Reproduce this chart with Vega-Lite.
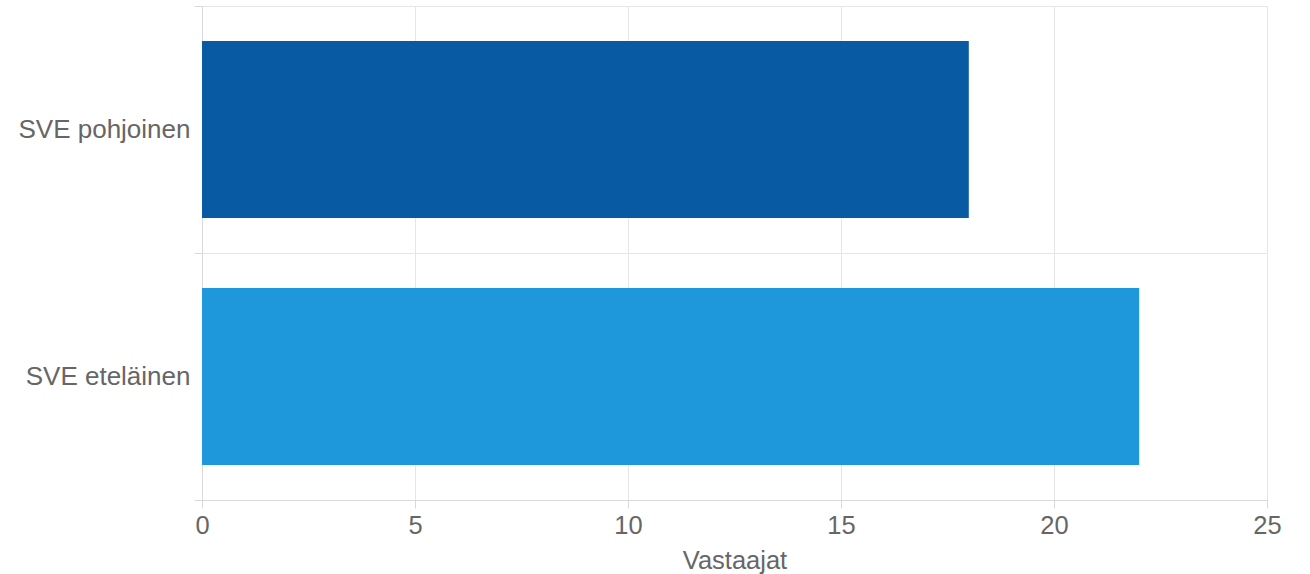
{
  "$schema": "https://vega.github.io/schema/vega-lite/v6.json",
  "width": 1065,
  "height": 494,
  "autosize": {"type": "none"},
  "padding": {"left": 202, "top": 6, "right": 43, "bottom": 74},
  "background": "white",
  "config": {
    "view": {"stroke": null},
    "font": "Liberation Sans"
  },
  "data": {
    "values": [
      {"alue": "SVE pohjoinen", "vastaajat": 18},
      {"alue": "SVE eteläinen", "vastaajat": 22}
    ]
  },
  "mark": {"type": "bar", "height": {"band": 0.7166}},
  "encoding": {
    "y": {
      "field": "alue",
      "type": "nominal",
      "sort": ["SVE pohjoinen", "SVE eteläinen"],
      "scale": {"paddingInner": 0, "paddingOuter": 0},
      "axis": {
        "title": null,
        "tickBand": "extent",
        "grid": true,
        "gridColor": "#e6e6e6",
        "tickColor": "#d9d9d9",
        "tickSize": 8,
        "domainColor": "#d9d9d9",
        "labelPadding": 4,
        "labelFontSize": 26,
        "labelColor": "#666666",
        "labelFont": "Liberation Sans"
      }
    },
    "x": {
      "field": "vastaajat",
      "type": "quantitative",
      "scale": {"domain": [0, 25]},
      "axis": {
        "title": "Vastaajat",
        "values": [0, 5, 10, 15, 20, 25],
        "grid": true,
        "gridColor": "#e6e6e6",
        "tickColor": "#d9d9d9",
        "tickSize": 8,
        "domainColor": "#d9d9d9",
        "labelFlush": false,
        "labelPadding": 5,
        "labelFontSize": 25.5,
        "labelColor": "#666666",
        "labelFont": "Liberation Sans",
        "titleFontSize": 25.5,
        "titleFontWeight": "normal",
        "titleColor": "#666666",
        "titleFont": "Liberation Sans",
        "titlePadding": 10
      }
    },
    "color": {
      "field": "alue",
      "type": "nominal",
      "scale": {"domain": ["SVE pohjoinen", "SVE eteläinen"], "range": ["#085AA3", "#1E98DB"]},
      "legend": null
    }
  }
}
